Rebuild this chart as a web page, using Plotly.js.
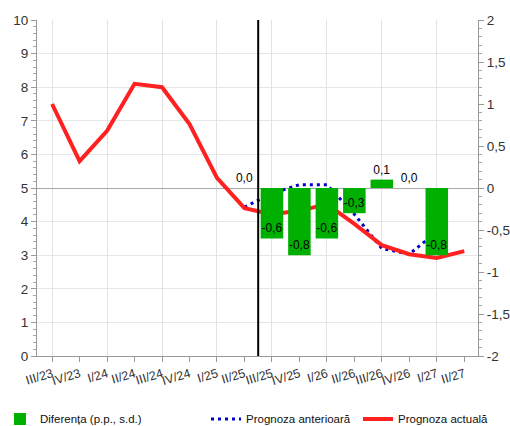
<!DOCTYPE html>
<html>
<head>
<meta charset="utf-8">
<script src="https://cdn.plot.ly/plotly-3.0.1.min.js"></script>
<style>html,body{margin:0;padding:0;background:#fff;}#chart{width:510px;height:426px;}</style>
</head>
<body>
<div id="chart"></div>
<script>
var categories = ["III/23","IV/23","I/24","II/24","III/24","IV/24","I/25","II/25","III/25","IV/25","I/26","II/26","III/26","IV/26","I/27","II/27"];
var actual   = [7.5, 5.8, 6.7, 8.1, 8.0, 6.9, 5.3, 4.4, 4.22, 4.32, 4.52, 3.93, 3.3, 3.03, 2.92, 3.12];
var previous = [null, null, null, null, null, null, null, 4.43, 4.84, 5.1, 5.1, 4.22, 3.2, 3.03, 3.7, null];
var diff     = [null, null, null, null, null, null, null, 0.0, -0.6, -0.8, -0.6, -0.3, 0.1, 0.0, -0.8, null];
var leftTicks = [0,1,2,3,4,5,6,7,8,9,10];
var rightTickVals = [-2,-1.5,-1,-0.5,0,0.5,1,1.5,2];
var rightTickText = ["-2","-1,5","-1","-0,5","0","0,5","1","1,5","2"];

var idx = categories.map(function(c,i){return i;});
var diffText = diff.map(function(v){return v===null?"":v.toFixed(1).replace(".",",");});
var diffPos = diff.map(function(v){return (v!==null && v<0)?"inside":"outside";});

var font = "Liberation Sans, Arial, sans-serif";

var traces = [
  {type:"bar", name:"Diferența (p.p., s.d.)", x:idx, y:diff, xaxis:"x", yaxis:"y2",
   marker:{color:"#00b000"}, text:diffText, textposition:diffPos, insidetextanchor:"end",
   textangle:0, constraintext:"none", cliponaxis:false,
   textfont:{family:font,size:12,color:"#000"}, insidetextfont:{family:font,size:12,color:"#000"},
   outsidetextfont:{family:font,size:12,color:"#000"}, legend:"legend", hoverinfo:"skip"},
  {type:"scatter", mode:"lines", name:"Prognoza anterioară", x:idx, y:previous, xaxis:"x", yaxis:"y",
   line:{color:"#0000c8", width:3, dash:"3px,4px"}, connectgaps:false, legend:"legend2"},
  {type:"scatter", mode:"lines", name:"Prognoza actuală", x:idx, y:actual, xaxis:"x", yaxis:"y",
   line:{color:"#ff2020", width:4}, legend:"legend3"},
  {type:"scatter", mode:"lines", x:[], y:[], xaxis:"x2", yaxis:"y", showlegend:false, hoverinfo:"skip"}
];

var layout = {
  width:510, height:426,
  margin:{l:37, r:32, t:20, b:70},
  paper_bgcolor:"#fff", plot_bgcolor:"#fff",
  separators:",.",
  font:{family:font, size:12, color:"#333"},
  bargap:0.18,
  showlegend:true,
  xaxis:{range:[-0.55,15.5], tickmode:"array", tickvals:idx, ticktext:categories,
    tickangle:-17, tickfont:{size:12.5, color:"#333"}, ticks:"outside", ticklen:5, tickcolor:"#999",
    showgrid:false, showline:true, linecolor:"#999", zeroline:false, fixedrange:true},
  xaxis2:{overlaying:"x", matches:"x", anchor:"y", tickmode:"linear", tick0:0, dtick:2,
    showgrid:true, gridcolor:"#e2e2e2", showticklabels:false, ticks:"", showline:false, zeroline:false},
  yaxis:{range:[0,10], tickmode:"array", tickvals:leftTicks, ticks:"outside", ticklen:5, tickcolor:"#999",
    tickfont:{size:13.5, color:"#333"}, showgrid:true, gridcolor:"#e6e6e6", showline:true, linecolor:"#999",
    zeroline:false,
    minor:{dtick:0.2, ticks:"outside", ticklen:3, tickcolor:"#aaa", showgrid:false}},
  yaxis2:{range:[-2,2], overlaying:"y", side:"right", anchor:"x", tickmode:"array",
    tickvals:rightTickVals, ticktext:rightTickText, ticks:"outside", ticklen:5, tickcolor:"#999",
    tickfont:{size:13.5, color:"#333"}, showgrid:false, showline:true, linecolor:"#999",
    zeroline:true, zerolinecolor:"#a8a8a8", zerolinewidth:1,
    minor:{dtick:0.1, ticks:"outside", ticklen:3, tickcolor:"#aaa", showgrid:false}},
  shapes:[{type:"line", xref:"x", yref:"paper", x0:7.5, x1:7.5, y0:0, y1:1,
    line:{color:"#000", width:2}, layer:"above"}],
  legend:{xref:"container", yref:"container", x:0.0, y:0.0165, xanchor:"left", yanchor:"middle",
    orientation:"h", font:{size:11.5, color:"#111"}, bgcolor:"rgba(0,0,0,0)"},
  legend2:{xref:"container", yref:"container", x:206/510, y:0.0165, xanchor:"left", yanchor:"middle",
    orientation:"h", font:{size:11.5, color:"#111"}, bgcolor:"rgba(0,0,0,0)"},
  legend3:{xref:"container", yref:"container", x:358/510, y:0.0165, xanchor:"left", yanchor:"middle",
    orientation:"h", font:{size:11.5, color:"#111"}, bgcolor:"rgba(0,0,0,0)"}
};

Plotly.newPlot("chart", traces, layout, {displayModeBar:false, staticPlot:true});
</script>
</body>
</html>
